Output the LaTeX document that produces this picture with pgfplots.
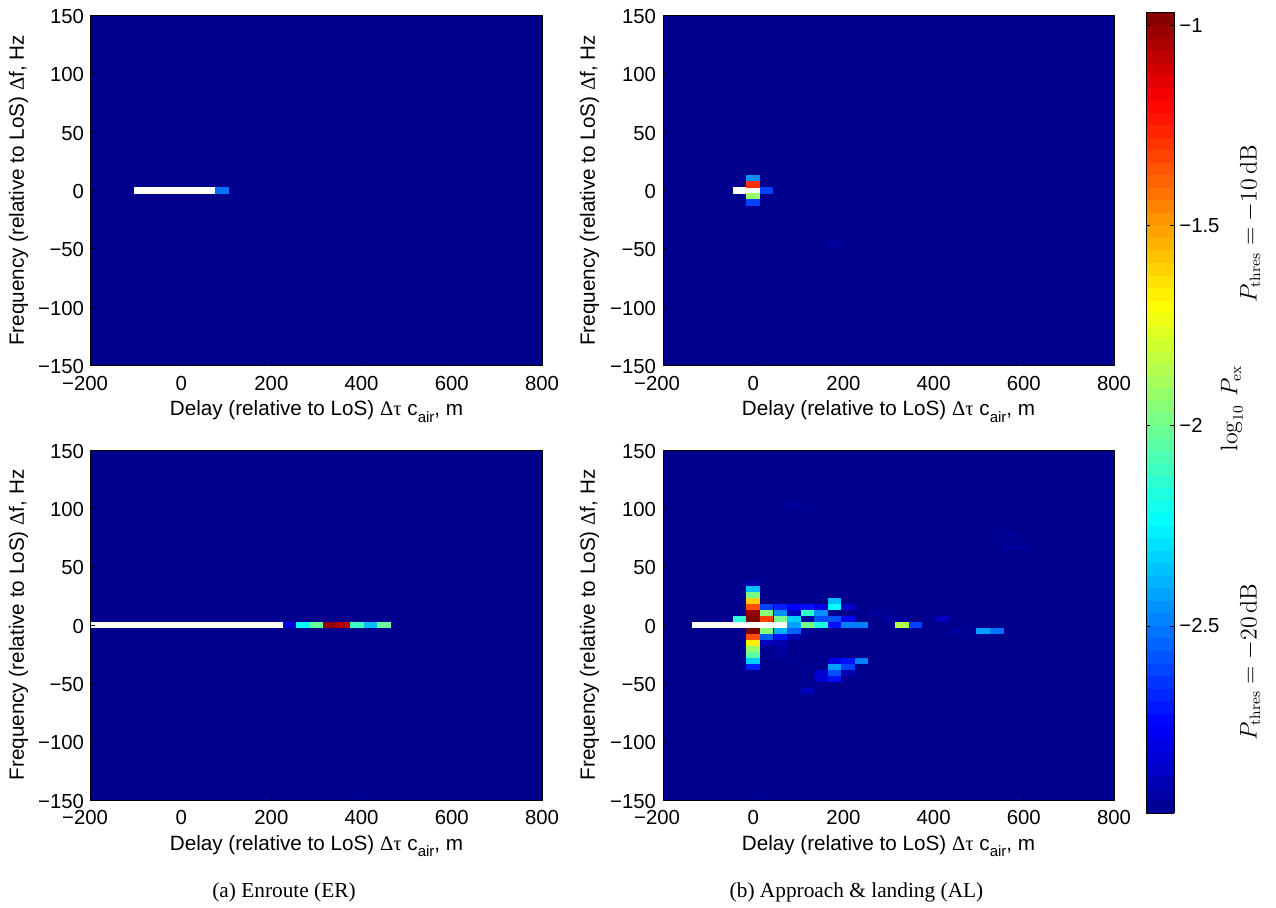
\documentclass[border=0pt]{standalone}
\usepackage[no-math]{fontspec}
\setmainfont{Liberation Sans}
\newfontfamily\serifsym{Liberation Serif}
\usepackage{pgfplots}
\usepackage{pgfplotstable}
\pgfplotsset{compat=1.18}
\definecolor{jetbase}{rgb}{0,0,0.5625}
\pgfdeclareplotmark{cell}{\pgfpathrectangle{\pgfpoint{-4.05pt}{-1.82pt}}{\pgfpoint{8.1pt}{3.64pt}}\pgfusepathqfill}
\pgfplotsset{
  colormap={matjet}{rgb(0pt)=(0,0,0.5625); rgb(7pt)=(0,0,1); rgb(23pt)=(0,1,1); rgb(39pt)=(0.94,1,0.06); rgb(40pt)=(1,1,0); rgb(55pt)=(1,0.06,0); rgb(56pt)=(1,0,0); rgb(63pt)=(0.5,0,0)},
  panel/.style={
    scale only axis, width=270.6pt, height=210pt,
    xmin=-200, xmax=800, ymin=-150, ymax=150,
    xtick={-200,0,200,400,600,800},
    xticklabels={\llap{−}200,0,200,400,600,800},
    ytick={-150,-100,-50,0,50,100,150},
    yticklabels={−150,−100,−50,0,50,100,150},
    tick align=inside, xtick pos=bottom, ytick pos=left,
    major tick length=2.2pt,
    tick style={black,line width=0.4pt},
    axis line style={black,line width=0.6pt},
    axis on top,
    axis background/.style={fill=jetbase},
    colormap name=matjet,
    point meta min=-2.967, point meta max=-0.967,
    tick label style={font=\fontsize{12.2}{12.2}\selectfont},
    x tick label style={anchor=base,inner sep=0pt,yshift=-14.8pt},
    y tick label style={anchor=east,inner sep=0pt,xshift=-4pt,yshift=-0.6pt},
    xlabel={Delay (relative to LoS) {\serifsym Δτ} c\raisebox{-0.32em}{\fontsize{9}{9}\selectfont air}, m},
    ylabel={Frequency (relative to LoS) {\serifsym Δ}f, Hz},
    label style={font=\fontsize{12.4}{12.4}\selectfont},
    xlabel style={at={(axis description cs:0.5,-0.143)},anchor=base},
    ylabel style={at={(axis description cs:-0.149,0.5)},anchor=base},
  },
  jetcells/.style={scatter, only marks, mark=cell, scatter/use mapped color={draw=none,fill=mapped color}, point meta=\thisrow{c}},
  whitebar/.style={no marks, white, line width=3.64pt, line cap=butt, point meta=none},
}
\pgfplotstableread{
x y c
90 0 -2.522
}\tabA
\pgfplotstableread{
x y
-105 0
75 0
}\whiteA
\pgfplotstableread{
x y c
0 10.28 -2.459
0 5.14 -1.284
0 -5.14 -1.919
0 -10.28 -2.618
30 0 -2.618
180 -46.26 -2.935
}\tabB
\pgfplotstableread{
x y
-45 0
15 0
}\whiteB
\pgfplotstableread{
x y c
240 0 -2.808
270 0 -2.237
300 0 -2.015
330 0 -0.999
360 0 -1.062
390 0 -2.110
420 0 -2.364
450 0 -2.015
}\tabC
\pgfplotstableread{
x y
-200 0
225 0
}\whiteC
\pgfplotstableread{
x y c
0 35.98 -2.904
0 30.84 -2.364
0 25.7 -1.983
0 20.56 -1.602
0 15.42 -1.348
0 10.28 -0.999
0 5.14 -0.967
0 -5.14 -0.967
0 -10.28 -1.348
0 -15.42 -1.665
0 -20.56 -1.919
0 -25.7 -2.046
0 -30.84 -2.332
0 -35.98 -2.681
-30 5.14 -2.141
30 15.42 -2.618
30 10.28 -1.951
30 5.14 -1.316
30 -5.14 -1.951
30 -10.28 -2.554
30 -15.42 -2.872
60 15.42 -2.681
60 10.28 -2.459
60 5.14 -1.983
60 -5.14 -2.395
60 -10.28 -2.713
60 -15.42 -2.904
60 -20.56 -2.935
60 -25.7 -2.935
90 15.42 -2.745
90 10.28 -2.872
90 5.14 -2.332
90 0 -2.427
90 -5.14 -2.554
90 -10.28 -2.904
120 15.42 -2.713
120 10.28 -2.141
120 5.14 -2.935
120 0 -1.983
120 -5.14 -2.935
120 -56.54 -2.872
150 15.42 -2.808
150 10.28 -2.459
150 5.14 -2.586
150 0 -2.173
150 -41.12 -2.840
150 -46.26 -2.840
180 20.56 -2.364
180 15.42 -2.237
180 5.14 -2.586
180 0 -2.713
180 -30.84 -2.808
180 -35.98 -2.427
180 -41.12 -2.586
180 -46.26 -2.713
210 15.42 -2.840
210 5.14 -2.777
210 0 -2.491
210 -30.84 -2.713
210 -35.98 -2.618
210 -41.12 -2.904
240 0 -2.491
240 -30.84 -2.491
270 10.28 -2.935
300 5.14 -2.935
300 0 -2.950
330 5.14 -2.935
330 0 -1.856
360 0 -2.618
420 5.14 -2.872
450 -5.14 -2.935
510 -5.14 -2.427
540 -5.14 -2.522
570 77.1 -2.935
570 66.82 -2.935
600 66.82 -2.935
90 102.8 -2.935
}\tabD
\pgfplotstableread{
x y
-135 0
75 0
}\whiteD
\begin{document}
\begin{tikzpicture}
\useasboundingbox (0,0) rectangle (765.6pt,544.2pt);
% Panel top left
\begin{axis}[panel, at={(54.6pt,324.9pt)}, anchor=south west]
\addplot[jetcells] table[x=x,y=y] {\tabA};
\addplot[whitebar] table[x=x,y=y] {\whiteA};
\end{axis}
% Panel top right
\begin{axis}[panel, at={(397.8pt,324.9pt)}, anchor=south west,
  ylabel style={at={(axis description cs:-0.151,0.5)},anchor=base}]
\addplot[jetcells] table[x=x,y=y] {\tabB};
\addplot[whitebar] table[x=x,y=y] {\whiteB};
\end{axis}
% Panel bottom left
\begin{axis}[panel, at={(54.6pt,64.2pt)}, anchor=south west]
\addplot[jetcells] table[x=x,y=y] {\tabC};
\addplot[whitebar] table[x=x,y=y] {\whiteC};
\end{axis}
% Panel bottom right with colour bar
\begin{axis}[panel, at={(397.8pt,64.2pt)}, anchor=south west,
  ylabel style={at={(axis description cs:-0.151,0.5)},anchor=base},
  colorbar sampled,
  colorbar style={
    samples=65,
    at={(1.0711,-0.0372)}, anchor=south west,
    width=16.8pt, height=480.6pt,
    ytick={-2.5,-2,-1.5,-1},
    yticklabels={−2.5,−2,−1.5,−1},
    tick align=inside,
    major tick length=2.2pt,
    tick style={black,line width=0.4pt},
    y tick label style={anchor=west,inner sep=0pt,xshift=3pt,font=\fontsize{12.2}{12.2}\selectfont},
    ticklabel pos=right,
  }]
\addplot[jetcells] table[x=x,y=y] {\tabD};
\addplot[whitebar] table[x=x,y=y] {\whiteD};
\end{axis}
\node[rotate=90,font=\fontsize{13.3}{14}\selectfont,anchor=center] at (750pt,410pt) {$P_{\mathrm{thres}}=-10\,\mathrm{dB}$};
\node[rotate=90,font=\fontsize{13.3}{14}\selectfont,anchor=center] at (750pt,147pt) {$P_{\mathrm{thres}}=-20\,\mathrm{dB}$};
\node[rotate=90,font=\fontsize{13.3}{14}\selectfont,anchor=center] at (739pt,299pt) {$\log_{10}\,P_{\mathrm{ex}}$};
\node[font=\fontsize{12.8}{13}\serifsym\selectfont,anchor=center] at (170.4pt,8.5pt) {(a) Enroute (ER)};
\node[font=\fontsize{12.8}{13}\serifsym\selectfont,anchor=center] at (513.9pt,8.5pt) {(b) Approach \& landing (AL)};
\end{tikzpicture}
\end{document}
